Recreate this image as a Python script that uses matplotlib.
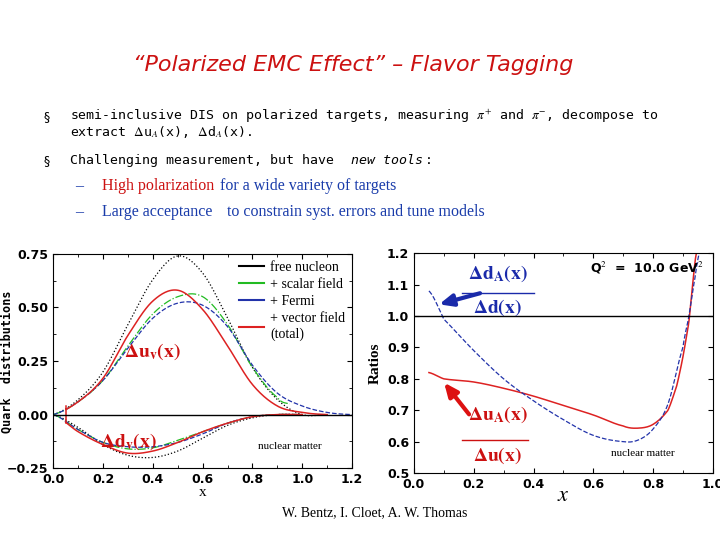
import matplotlib
matplotlib.use("Agg")
import matplotlib.pyplot as plt
import numpy as np

plt.rcParams["mathtext.fontset"] = "stix"

# Left panel data
xu = [0, 0.1, 0.2, 0.3, 0.4, 0.5, 0.6, 0.7, 0.8, 0.9, 1.0, 1.1]
u_free = [0, 0.07, 0.20, 0.42, 0.63, 0.74, 0.66, 0.45, 0.22, 0.07, 0.0, 0.0]
u_total = [0, 0.06, 0.17, 0.37, 0.53, 0.58, 0.49, 0.32, 0.14, 0.04, 0.01, 0.0]
xg = [0, 0.1, 0.2, 0.3, 0.4, 0.5, 0.6, 0.7, 0.8, 0.9, 0.95]
u_scalar = [0, 0.06, 0.16, 0.32, 0.47, 0.55, 0.55, 0.42, 0.22, 0.08, 0.05]
xb = [0, 0.1, 0.2, 0.3, 0.4, 0.5, 0.6, 0.7, 0.8, 0.9, 1.0, 1.1, 1.2]
u_fermi = [0, 0.06, 0.16, 0.31, 0.45, 0.52, 0.51, 0.41, 0.23, 0.10, 0.04, 0.01, 0.0]
xd = [0, 0.1, 0.2, 0.3, 0.4, 0.5, 0.6, 0.7, 0.8, 0.9, 1.0]
d_free = [0, -0.06, -0.14, -0.19, -0.20, -0.17, -0.11, -0.05, -0.015, 0, 0]
d_total = [0, -0.08, -0.14, -0.18, -0.17, -0.13, -0.08, -0.04, -0.01, 0, 0]
d_scalar = [0, -0.07, -0.13, -0.16, -0.155, -0.12, -0.08, -0.04, -0.01, 0, 0]
d_fermi = [0, -0.07, -0.13, -0.15, -0.15, -0.13, -0.09, -0.04, -0.01, 0, 0]

# Right panel data
xr = [0.05, 0.1, 0.2, 0.3, 0.4, 0.5, 0.6, 0.7, 0.75, 0.8, 0.85, 0.88, 0.9, 0.92, 0.93, 0.945]
ratio_u = [0.82, 0.80, 0.79, 0.77, 0.745, 0.715, 0.685, 0.65, 0.643, 0.655, 0.70, 0.78, 0.87, 0.98, 1.08, 1.2]
xrb = [0.05, 0.1, 0.2, 0.3, 0.4, 0.5, 0.6, 0.7, 0.75, 0.8, 0.85, 0.9, 0.92, 0.94, 0.955]
ratio_d = [1.08, 0.99, 0.89, 0.80, 0.73, 0.67, 0.62, 0.60, 0.605, 0.64, 0.72, 0.90, 1.0, 1.12, 1.2]

def smooth(x, y, n=300):
    x = np.asarray(x); y = np.asarray(y)
    xs = np.linspace(x[0], x[-1], n)
    ys = np.zeros_like(xs)
    for i, xv in enumerate(xs):
        k = np.searchsorted(x, xv) - 1
        k = min(max(k, 0), len(x) - 2)
        p0 = y[max(k - 1, 0)]; p1 = y[k]; p2 = y[k + 1]; p3 = y[min(k + 2, len(x) - 1)]
        t = (xv - x[k]) / (x[k + 1] - x[k])
        ys[i] = 0.5 * ((2 * p1) + (-p0 + p2) * t + (2 * p0 - 5 * p1 + 4 * p2 - p3) * t ** 2 + (-p0 + 3 * p1 - 3 * p2 + p3) * t ** 3)
    return xs, ys

fig = plt.figure(figsize=(7.2, 5.4), dpi=100)
fig.patch.set_facecolor("white")

fig.text(0.49, 0.88, "“Polarized EMC Effect” – Flavor Tagging", color="#cc1111",
         fontsize=16, ha="center", va="center", family="DejaVu Sans", style="italic")
mono = dict(fontsize=9.5, family="DejaVu Sans Mono", va="center")
fig.text(0.06, 0.785, "§", fontsize=9, va="center")
fig.text(0.097, 0.785, "semi-inclusive DIS on polarized targets, measuring $\\pi^{+}$ and $\\pi^{-}$, decompose to", **mono)
fig.text(0.097, 0.755, "extract $\\Delta$u$_A$(x), $\\Delta$d$_A$(x).", **mono)
fig.text(0.06, 0.703, "§", fontsize=9, va="center")
fig.text(0.097, 0.703, "Challenging measurement, but have ", **mono)
fig.text(0.487, 0.703, "new tools", style="italic", **mono)
fig.text(0.59, 0.703, ":", **mono)
ser = dict(fontsize=11.5, family="Liberation Serif", va="center")
fig.text(0.105, 0.655, "–", color="#1a3caa", **ser)
fig.text(0.142, 0.655, "High polarization", color="#cc1111", **ser)
fig.text(0.305, 0.655, "for a wide variety of targets", color="#1a3caa", **ser)
fig.text(0.105, 0.607, "–", color="#1a3caa", **ser)
fig.text(0.142, 0.607, "Large acceptance", color="#1a3caa", **ser)
fig.text(0.315, 0.607, "to constrain syst. errors and tune models", color="#1a3caa", **ser)

# Left axes
ax = fig.add_axes([0.074, 0.133, 0.415, 0.397])
ax.plot(*smooth(xu, u_free), color="black", ls=":", lw=0.9)
ax.plot(*smooth(xg, u_scalar), color="#22bb22", ls="-.", lw=0.9)
ax.plot(*smooth(xb, u_fermi), color="#2233aa", ls="--", lw=0.9)
xs, ys = smooth(xu, u_total)
m = xs >= 0.05
ax.plot(xs[m], ys[m], color="#dd2222", lw=1.1)
ax.plot(*smooth(xd, d_free), color="black", ls=":", lw=0.9)
ax.plot(*smooth(xd, d_scalar), color="#22bb22", ls="-.", lw=0.9)
ax.plot(*smooth(xd, d_fermi), color="#2233aa", ls="--", lw=0.9)
xs, ys = smooth(xd, d_total)
m = xs >= 0.05
ax.plot(xs[m], ys[m], color="#dd2222", lw=1.1)
ax.plot([0.05, 0.05], [-0.04, 0.04], color="#dd2222", lw=1.1)
ax.axhline(0, color="black", lw=1)
ax.set_xlim(0, 1.2); ax.set_ylim(-0.25, 0.75)
ax.set_xticks(np.arange(0, 1.21, 0.2)); ax.set_yticks([-0.25, 0, 0.25, 0.5, 0.75])
ax.set_xticks(np.arange(0, 1.21, 0.1), minor=True)
ax.set_yticks(np.arange(-0.25, 0.76, 0.125), minor=True)
ax.tick_params(which="both", direction="in", top=True, right=True, labelsize=9)
ax.set_xticklabels([f"{v:.1f}" for v in np.arange(0, 1.21, 0.2)], fontweight="bold")
ax.set_yticklabels(["−0.25", "0.00", "0.25", "0.50", "0.75"], fontweight="bold")
ax.set_xlabel("x", fontsize=11, family="Liberation Serif", labelpad=0)
fig.text(0.009, 0.33, "Quark  distributions", fontsize=8.5, family="DejaVu Sans Mono",
         fontweight="bold", rotation=90, ha="center", va="center")
handles = [plt.Line2D([], [], color=c, lw=1.5) for c in ["black", "#22bb22", "#2233aa", "#dd2222"]]
ax.legend(handles, ["free nucleon", "+ scalar field", "+ Fermi", "+ vector field\n(total)"],
          loc="upper right", frameon=False, prop=dict(family="Liberation Serif", size=10),
          handlelength=1.8, handletextpad=0.4, labelspacing=0.3, borderaxespad=0.1)
ax.text(0.4, 0.27, "$\\mathbf{\\Delta u_v(x)}$", color="#cc1111", fontsize=14, ha="center")
ax.text(0.30, -0.15, "$\\mathbf{\\Delta d_v(x)}$", color="#cc1111", fontsize=14, ha="center")
ax.text(0.95, -0.16, "nuclear matter", fontsize=8, ha="center", family="Liberation Serif")

# Right axes
ax2 = fig.add_axes([0.575, 0.124, 0.415, 0.407])
ax2.plot(*smooth(xr, ratio_u), color="#dd2222", lw=1.1)
ax2.plot(*smooth(xrb, ratio_d), color="#2233aa", ls="--", lw=0.9)
ax2.axhline(1.0, color="black", lw=1)
ax2.set_xlim(0, 1.0); ax2.set_ylim(0.5, 1.2)
ax2.set_xticks(np.arange(0, 1.01, 0.2)); ax2.set_xticks(np.arange(0, 1.01, 0.1), minor=True)
ax2.set_yticks(np.arange(0.5, 1.21, 0.1))
ax2.tick_params(which="both", direction="in", top=True, right=True, labelsize=9)
ax2.set_xticklabels([f"{v:.1f}" for v in np.arange(0, 1.01, 0.2)], fontweight="bold")
ax2.set_yticklabels([f"{v:.1f}" for v in np.arange(0.5, 1.21, 0.1)], fontweight="bold")
ax2.set_xlabel("$x$", fontsize=16, labelpad=-4)
ax2.set_ylabel("Ratios", fontsize=11, fontweight="bold", family="Liberation Serif")
ax2.text(0.59, 1.14, "Q$^2$  =  10.0 GeV$^2$", fontsize=9, fontweight="bold")
ax2.text(0.28, 1.12, "$\\mathbf{\\Delta d_A(x)}$", color="#1a2aaa", fontsize=14, ha="center")
ax2.plot([0.16, 0.4], [1.075, 1.075], color="#1a2aaa", lw=1)
ax2.text(0.28, 1.01, "$\\mathbf{\\Delta d(x)}$", color="#1a2aaa", fontsize=14, ha="center")
ax2.annotate("", xy=(0.075, 1.035), xytext=(0.23, 1.075),
             arrowprops=dict(arrowstyle="-|>,head_width=0.35,head_length=0.8", color="#1a2aaa", lw=3))
ax2.text(0.28, 0.67, "$\\mathbf{\\Delta u_A(x)}$", color="#cc1111", fontsize=14, ha="center")
ax2.plot([0.16, 0.38], [0.605, 0.605], color="#cc1111", lw=1)
ax2.text(0.28, 0.54, "$\\mathbf{\\Delta u(x)}$", color="#cc1111", fontsize=14, ha="center")
ax2.annotate("", xy=(0.095, 0.795), xytext=(0.19, 0.68),
             arrowprops=dict(arrowstyle="-|>,head_width=0.35,head_length=0.8", color="#dd1111", lw=3))
ax2.text(0.66, 0.555, "nuclear matter", fontsize=8, family="Liberation Serif")

fig.text(0.52, 0.045, "W. Bentz, I. Cloet, A. W. Thomas", fontsize=10, ha="center", family="Liberation Serif")

fig.savefig("out.png", dpi=100)
